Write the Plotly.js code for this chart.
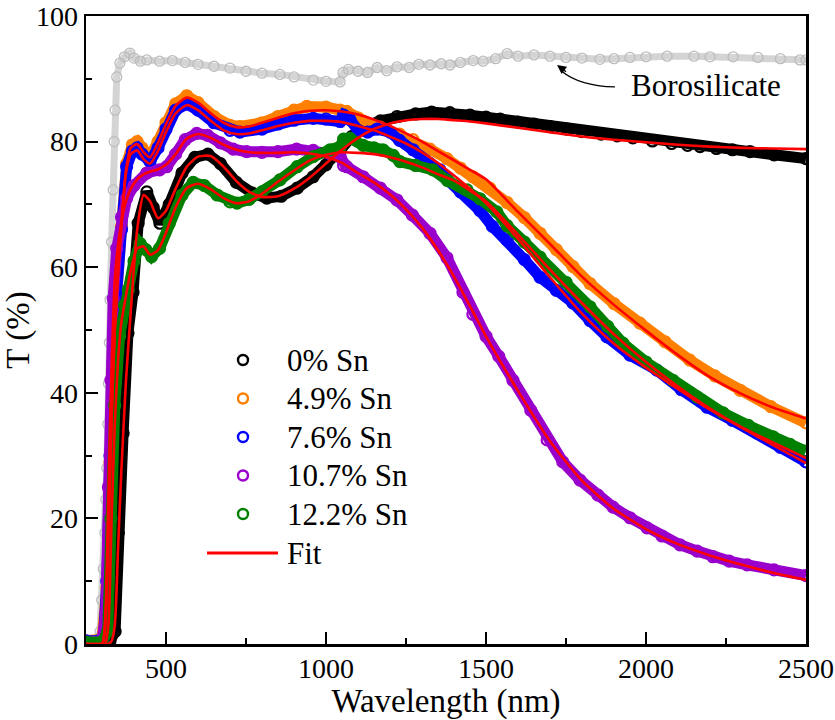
<!DOCTYPE html>
<html>
<head>
<meta charset="utf-8">
<script src="https://cdn.plot.ly/plotly-3.0.1.min.js"></script>
<style>
html,body{margin:0;padding:0;background:#fff;font-family:"Liberation Serif",serif;}
#chart{width:835px;height:720px;}
#chart svg text{font-family:"Liberation Serif",serif !important;}
</style>
</head>
<body>
<div id="chart"></div>
<script>
// ---------- data ----------
const seriesNames = ['0% Sn', '4.9% Sn', '7.6% Sn', '10.7% Sn', '12.2% Sn'];
const seriesColors = ['#000000', '#ff8000', '#0000ff', '#9900cc', '#008000'];
const fitName = 'Fit';
const boroName = 'Borosilicate';

const xTickVals = [500, 1000, 1500, 2000, 2500];
const yTickVals = [0, 20, 40, 60, 80, 100];

// Borosilicate substrate
const boroWl = [250, 285, 294, 299, 304, 309, 312, 315, 318, 320, 323, 325, 330, 335, 338, 341, 346, 356, 370, 387, 400, 420, 440, 480, 520, 560, 600, 650, 700, 750, 800, 856, 900, 960, 1000, 1044, 1053, 1070, 1100, 1130, 1160, 1190, 1222, 1260, 1290, 1325, 1360, 1387, 1420, 1460, 1491, 1530, 1566, 1600, 1650, 1700, 1750, 1800, 1856, 1900, 1950, 2000, 2066, 2150, 2200, 2272, 2350, 2420, 2481, 2500];
const boroT = [0.5, 0.5, 2, 7, 12, 17.7, 23, 28, 35, 41.5, 48, 54.8, 64, 72.3, 80, 85, 90.3, 92.5, 93.5, 94.1, 93.3, 92.8, 93, 92.8, 92.9, 92.6, 92.3, 92, 91.7, 91.2, 90.9, 90.7, 90.3, 89.8, 89.6, 89.5, 91, 91.5, 91.2, 91, 91.8, 91.3, 91.9, 91.8, 92.3, 92.2, 92.4, 92.2, 92.6, 92.9, 92.8, 93.2, 94, 93.6, 93.8, 93.6, 93.4, 93.3, 93.1, 93.2, 93.4, 93.5, 93.6, 93.6, 93.5, 93.5, 93.4, 93.2, 93, 93];

// 0% Sn
const wl0 = [250, 300, 325, 341, 351, 366, 381, 397, 413, 440, 460, 481, 510, 550, 590, 631, 670, 720, 770, 815, 860, 910, 960, 1000, 1044, 1080, 1116, 1170, 1222, 1280, 1330, 1387, 1450, 1500, 1544, 1600, 1650, 1700, 1753, 1800, 1860, 1910, 1959, 2020, 2080, 2130, 2169, 2220, 2270, 2325, 2400, 2500];
const T0 = [0.3, 0.3, 0.5, 2, 17.7, 33.6, 49.5, 56, 67, 72, 69.5, 67, 70, 75, 77.5, 78, 76.5, 73.5, 71.8, 71, 71.3, 72.6, 74.4, 76.3, 78.6, 80.8, 82.3, 83.3, 84, 84.4, 84.7, 84.6, 84.2, 83.9, 83.6, 83.1, 82.8, 82.4, 82, 81.6, 81.2, 80.9, 80.6, 80.1, 79.7, 79.4, 79.2, 78.9, 78.7, 78.4, 77.9, 77.3];

// 4.9% Sn
const wl49 = [250, 300, 315, 325, 335, 346, 361, 377, 395, 410, 425, 450, 475, 500, 530, 565, 600, 650, 700, 731, 800, 850, 900, 940, 1000, 1044, 1065, 1100, 1169, 1230, 1272, 1325, 1378, 1420, 1459, 1512, 1566, 1620, 1669, 1720, 1772, 1825, 1900, 1981, 2060, 2137, 2215, 2294, 2390, 2500];
const T49 = [0.5, 0.8, 9, 29, 44, 55.5, 66.5, 76.5, 79.5, 80, 79, 77.5, 80, 83, 86, 87.3, 86.2, 84, 82.6, 82.4, 83, 84, 85, 85.6, 85.5, 85, 84.8, 83.8, 82.3, 81.2, 80.3, 78.8, 77.3, 75.8, 74.4, 72.6, 70.3, 67.9, 65.4, 62.8, 60.1, 57.4, 54.2, 51.1, 48.1, 45.2, 42.7, 40.4, 37.8, 35.2];

// 7.6% Sn
const wl76 = [250, 290, 305, 315, 325, 335, 346, 361, 377, 395, 410, 425, 450, 475, 500, 530, 565, 600, 650, 700, 731, 800, 850, 900, 960, 1000, 1044, 1055, 1075, 1100, 1130, 1160, 1200, 1230, 1272, 1325, 1356, 1378, 1420, 1459, 1481, 1520, 1566, 1620, 1669, 1720, 1772, 1825, 1878, 1950, 2034, 2110, 2191, 2270, 2347, 2420, 2500];
const T76 = [0.5, 0.5, 1, 10, 30, 45, 56, 66, 76, 78.5, 79, 78, 76.8, 79, 82, 85, 86, 85, 83, 81.8, 81.5, 82, 82.8, 83.4, 83.7, 83.6, 83.2, 84.2, 83.5, 81.8, 81.5, 82, 81.5, 80.2, 78.7, 76.5, 75.5, 74, 72, 70.5, 69, 66.5, 64.3, 61.2, 58.4, 56.3, 54.3, 51.5, 48.9, 46, 43.6, 40.5, 37.7, 35.6, 33.6, 31.3, 29];

// 10.7% Sn
const wl107 = [250, 300, 312, 320, 328, 335, 346, 361, 377, 400, 440, 480, 502, 530, 560, 596, 630, 670, 710, 752, 800, 850, 908, 960, 1012, 1045, 1055, 1065, 1116, 1170, 1222, 1270, 1325, 1378, 1428, 1459, 1500, 1540, 1584, 1640, 1691, 1740, 1794, 1850, 1897, 1950, 2003, 2050, 2106, 2160, 2209, 2260, 2316, 2400, 2500];
const T107 = [0.3, 0.5, 5, 25, 42, 55, 63, 68, 71, 73, 75, 75.5, 76, 78, 80.3, 81.3, 81, 79.8, 78.8, 78.4, 78.3, 78.4, 78.8, 78.6, 78.1, 77.5, 76.2, 76, 74.4, 72.6, 70.7, 68.3, 65.4, 61.5, 56, 52.5, 49, 45.8, 42, 37.2, 32.5, 29, 26.1, 23.7, 21.8, 20.1, 18.5, 17.2, 15.8, 14.8, 13.9, 13.2, 12.6, 11.8, 10.9];

// 12.2% Sn
const wl122 = [250, 300, 318, 328, 340, 355, 370, 382, 400, 419, 437, 455, 480, 510, 550, 585, 620, 660, 700, 722, 760, 800, 856, 910, 960, 1013, 1045, 1055, 1075, 1116, 1150, 1178, 1210, 1231, 1280, 1334, 1380, 1441, 1481, 1534, 1566, 1620, 1669, 1750, 1825, 1880, 1928, 2000, 2084, 2160, 2241, 2320, 2397, 2450, 2500];
const T122 = [0.3, 0.3, 2, 20, 38, 49, 54, 56.4, 61, 63.8, 62.8, 61.7, 63, 67, 71.5, 73.5, 73, 71.5, 70.4, 70.2, 70.8, 72, 73.9, 76, 77.6, 78.7, 79.2, 80.4, 80.5, 79.4, 79, 78.7, 77.8, 76.8, 76.2, 75.5, 73.8, 72.3, 70.9, 68.8, 66.6, 64, 61.6, 57.6, 53.7, 50.6, 47.9, 44.9, 42, 39.3, 36.8, 34.8, 33, 31.8, 30.7];

// Fits (red lines), read on a common wavelength grid
const fitWl = [250, 300, 310, 320, 330, 340, 350, 360, 375, 390, 410, 430, 450, 475, 500, 530, 565, 600, 640, 680, 720, 760, 800, 850, 900, 950, 1000, 1050, 1100, 1150, 1200, 1250, 1300, 1350, 1400, 1450, 1500, 1600, 1700, 1800, 1900, 2000, 2100, 2200, 2300, 2400, 2500];
const fit0 = [0, 0, 0, 0, 0.5, 3, 15, 27, 42, 53, 66, 71.5, 70.5, 67.8, 69, 72.5, 76, 77.6, 77.7, 76, 73.7, 72, 71.2, 71.3, 72.5, 74.3, 76.5, 78.7, 80.6, 82, 82.9, 83.4, 83.6, 83.6, 83.4, 83.2, 82.9, 82.2, 81.5, 80.8, 80.3, 79.9, 79.5, 79.2, 79, 78.9, 78.8];
const fit49 = [0, 0, 3, 18, 36, 50, 59, 66.5, 75.5, 79, 79.6, 78.3, 77.5, 79.8, 82.8, 85.7, 87, 86.2, 84.5, 83, 82.3, 82.4, 83, 83.8, 84.5, 84.9, 85, 84.8, 84.3, 83.5, 82.5, 81.3, 80, 78.5, 77, 75.5, 74, 68.8, 63.7, 58.5, 54, 49.9, 46, 42.5, 39.8, 37.6, 35.9];
const fit76 = [0, 0, 3, 18, 36, 50, 59, 66, 75, 78, 78.6, 77.2, 76.5, 78.5, 81.5, 84.5, 85.8, 85, 83.3, 81.8, 81.2, 81.3, 81.8, 82.5, 83, 83.3, 83.3, 83.1, 82.5, 81.8, 80.8, 79.7, 78.3, 76.6, 74.6, 72.5, 70.2, 64.5, 58.4, 52.6, 47.8, 44, 40.6, 37.3, 34.4, 31.6, 28.8];
const fit107 = [0, 0, 4, 24, 44, 58, 63.5, 67, 70.5, 72.5, 74, 74.8, 75.2, 75.6, 76.3, 78, 80.5, 81.2, 80.6, 79.5, 78.7, 78.3, 78.2, 78.2, 78.3, 78.1, 77.6, 76.6, 75, 73.5, 71.6, 69.2, 66.3, 62.7, 58.5, 53.8, 49, 40.3, 32.3, 26, 21.5, 18.3, 15.9, 14.1, 12.6, 11.3, 10.2];
const fit122 = [0, 0, 0, 3, 20, 35, 45, 51, 55.5, 59.5, 63, 63.3, 62, 62.7, 65.5, 69.5, 72.6, 73.3, 72.4, 71, 70.2, 70.5, 71.7, 73.6, 75.4, 77, 77.9, 78.3, 78.2, 78, 77.5, 76.8, 75.9, 74.8, 73.8, 72.2, 70.5, 65.2, 59.6, 54.3, 49.3, 44.9, 41, 37.5, 34.5, 32, 29.6];

const dataWl = [wl0, wl49, wl76, wl107, wl122];
const dataT = [T0, T49, T76, T107, T122];
const fitT = [fit0, fit49, fit76, fit107, fit122];

// ---------- traces ----------
const FONT = 'Liberation Serif';
const traces = [];
traces.push({
  x: boroWl, y: boroT, type: 'scatter', mode: 'lines+markers', name: boroName,
  line: {color: '#d4d4d4', width: 7},
  marker: {symbol: 'circle-open', size: 10, color: '#bcbcbc', line: {width: 1.3, color: '#bcbcbc'}},
  showlegend: false
});
for (let i = 0; i < seriesNames.length; i++) {
  traces.push({
    x: dataWl[i], y: dataT[i], type: 'scatter', mode: 'lines+markers', name: seriesNames[i],
    line: {color: seriesColors[i], width: 11},
    marker: {symbol: 'circle-open', size: 11, color: seriesColors[i], line: {width: 2.2, color: seriesColors[i]}},
    showlegend: false
  });
}
for (let i = 0; i < seriesNames.length; i++) {
  traces.push({
    x: fitWl, y: fitT[i], type: 'scatter', mode: 'lines', name: fitName,
    line: {color: '#ff0000', width: 2.6, shape: 'spline', smoothing: 0.6},
    showlegend: false
  });
}

// ---------- manual legend (shapes + text) ----------
const PL = 86, PW = 720, PT = 16, PH = 628;
const px = x => (x - PL) / PW;
const py = y => (PT + PH - y) / PH;
const legendRowsY = [360, 398.5, 437, 475.5, 514];
const shapes = [];
const annotations = [];
for (let i = 0; i < seriesNames.length; i++) {
  shapes.push({
    type: 'circle', xref: 'paper', yref: 'paper',
    xsizemode: 'pixel', ysizemode: 'pixel',
    xanchor: px(243), yanchor: py(legendRowsY[i]),
    x0: -5, x1: 5, y0: -5, y1: 5,
    line: {color: seriesColors[i], width: 2.4}
  });
  annotations.push({
    xref: 'paper', yref: 'paper', x: px(285), y: py(legendRowsY[i]),
    xanchor: 'left', yanchor: 'middle', showarrow: false,
    text: seriesNames[i], font: {family: FONT, size: 31, color: '#000'}
  });
}
shapes.push({
  type: 'line', xref: 'paper', yref: 'paper',
  x0: px(207), x1: px(278), y0: py(553), y1: py(553),
  line: {color: '#ff0000', width: 3}
});
annotations.push({
  xref: 'paper', yref: 'paper', x: px(285), y: py(553),
  xanchor: 'left', yanchor: 'middle', showarrow: false,
  text: fitName, font: {family: FONT, size: 31, color: '#000'}
});

// Borosilicate label with curved arrow
annotations.push({
  xref: 'paper', yref: 'paper', x: px(706), y: py(86),
  xanchor: 'center', yanchor: 'middle', showarrow: false,
  text: boroName, font: {family: FONT, size: 31, color: '#000'}
});
shapes.push({
  type: 'path', xref: 'x', yref: 'y',
  path: 'M1903,88.7 Q1790,88.9 1735,91.3',
  line: {color: '#000', width: 1.3}
});
annotations.push({
  xref: 'x', yref: 'y', x: 1722, y: 92.2, ax: 12, ay: 9,
  showarrow: true, arrowhead: 2, arrowsize: 1.4, arrowwidth: 1.3, arrowcolor: '#000', text: ' '
});

// ---------- layout ----------
const axisCommon = {
  showline: true, linecolor: '#000', linewidth: 2.5, mirror: true,
  ticks: 'inside', ticklen: 12, tickwidth: 2, tickcolor: '#000',
  showgrid: false, zeroline: false,
  tickfont: {family: FONT, size: 28, color: '#000'}
};
const layout = {
  width: 835, height: 720,
  font: {family: FONT, color: '#000'},
  margin: {l: PL, r: 835 - PL - PW, t: PT, b: 720 - PT - PH},
  paper_bgcolor: '#fff', plot_bgcolor: '#fff',
  showlegend: false,
  xaxis: Object.assign({}, axisCommon, {
    range: [250, 2500], tickmode: 'array', tickvals: xTickVals,
    ticktext: xTickVals.map(String),
    minor: {dtick: 250, tick0: 0, ticks: 'inside', ticklen: 6, tickwidth: 2, tickcolor: '#000', showgrid: false},
    ticklabelstandoff: -2,
    title: {text: 'Wavelength (nm)', font: {family: FONT, size: 33, color: '#000'}, standoff: 5}
  }),
  yaxis: Object.assign({}, axisCommon, {
    range: [0, 100], tickmode: 'array', tickvals: yTickVals,
    ticktext: yTickVals.map(String),
    minor: {dtick: 10, tick0: 0, ticks: 'inside', ticklen: 6, tickwidth: 2, tickcolor: '#000', showgrid: false},
    title: {text: 'T (%)', font: {family: FONT, size: 33, color: '#000'}, standoff: 6}
  }),
  shapes: shapes,
  annotations: annotations
};

Plotly.newPlot('chart', traces, layout, {staticPlot: true});
</script>
</body>
</html>
